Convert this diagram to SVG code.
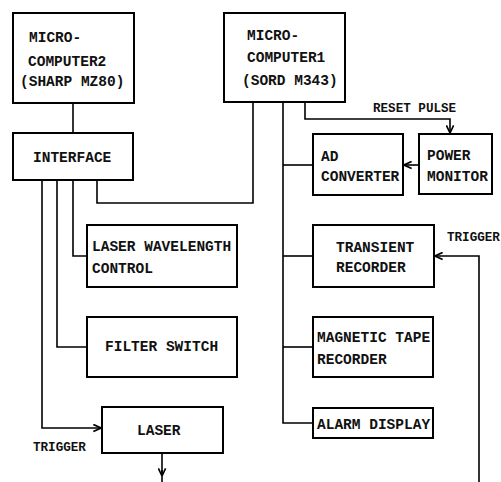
<svg xmlns="http://www.w3.org/2000/svg" width="501" height="482" viewBox="0 0 501 482">
<style>
.box{fill:#fff;stroke:#000;stroke-width:2}
.t{font-family:"Liberation Mono","Courier New",monospace;font-size:14.5px;font-weight:bold;fill:#111}
.s{font-family:"Liberation Mono","Courier New",monospace;font-size:12.6px;font-weight:bold;fill:#111}
.w{fill:none;stroke:#000;stroke-width:1.6}
</style>
<defs>
<marker id="ah" viewBox="0 0 10 10" refX="9.5" refY="5" markerWidth="9" markerHeight="9" markerUnits="userSpaceOnUse" orient="auto">
<path d="M1,1 L9.5,5 L1,9" fill="none" stroke="#000" stroke-width="1.8"/>
</marker>
</defs>
<rect width="501" height="482" fill="#fff"/>
<g id="connectors">
<path class="w" d="M73,103 V133"/>
<path class="w" d="M253,102 V203 H97 V180"/>
<path class="w" d="M283,102 V423 H313"/>
<path class="w" d="M305,102 V119 H450 V133" marker-end="url(#ah)"/>
<path class="w" d="M419,165 H404" marker-end="url(#ah)"/>
<path class="w" d="M283,165 H313"/>
<path class="w" d="M283,256 H313"/>
<path class="w" d="M283,347 H313"/>
<path class="w" d="M479,482 V256 H435" marker-end="url(#ah)"/>
<path class="w" d="M73,180 V256 H87"/>
<path class="w" d="M57,180 V347 H87"/>
<path class="w" d="M42,180 V428 H101" marker-end="url(#ah)"/>
<path class="w" d="M162,453 V476" marker-end="url(#ah)"/>
<path class="w" d="M162,470 V482"/>
<text class="s" x="373" y="112">RESET PULSE</text>
<text class="s" x="447" y="241">TRIGGER</text>
<text class="s" x="33" y="451">TRIGGER</text>
</g>
<g id="mc2">
<rect class="box" x="13" y="13" width="121" height="90"/>
<text class="t" x="29" y="42">MICRO-</text>
<text class="t" x="28" y="66">COMPUTER2</text>
<text class="t" x="20" y="86">(SHARP MZ80)</text>
</g>
<g id="mc1">
<rect class="box" x="224" y="13" width="121" height="89"/>
<text class="t" x="247" y="40">MICRO-</text>
<text class="t" x="247" y="62">COMPUTER1</text>
<text class="t" x="242" y="85">(SORD M343)</text>
</g>
<g id="interface">
<rect class="box" x="13" y="133" width="120" height="47"/>
<text class="t" x="33" y="162">INTERFACE</text>
</g>
<g id="ad">
<rect class="box" x="313" y="134" width="90" height="61"/>
<text class="t" x="321" y="161">AD</text>
<text class="t" x="321" y="181">CONVERTER</text>
</g>
<g id="pm">
<rect class="box" x="419" y="134" width="73" height="60"/>
<text class="t" x="427" y="160">POWER</text>
<text class="t" x="427" y="181">MONITOR</text>
</g>
<g id="lwc">
<rect class="box" x="87" y="225" width="150" height="62"/>
<text class="t" x="92" y="251">LASER WAVELENGTH</text>
<text class="t" x="92" y="273">CONTROL</text>
</g>
<g id="filter">
<rect class="box" x="87" y="317" width="150" height="60"/>
<text class="t" x="105" y="351">FILTER SWITCH</text>
</g>
<g id="laser">
<rect class="box" x="102" y="407" width="121" height="46"/>
<text class="t" x="137" y="435">LASER</text>
</g>
<g id="transient">
<rect class="box" x="313" y="225" width="121" height="62"/>
<text class="t" x="336" y="252">TRANSIENT</text>
<text class="t" x="336" y="272">RECORDER</text>
</g>
<g id="tape">
<rect class="box" x="313" y="317" width="120" height="60"/>
<text class="t" x="317" y="342">MAGNETIC TAPE</text>
<text class="t" x="317" y="364">RECORDER</text>
</g>
<g id="alarm">
<rect class="box" x="313" y="408" width="120" height="30"/>
<text class="t" x="317" y="429">ALARM DISPLAY</text>
</g>
</svg>
